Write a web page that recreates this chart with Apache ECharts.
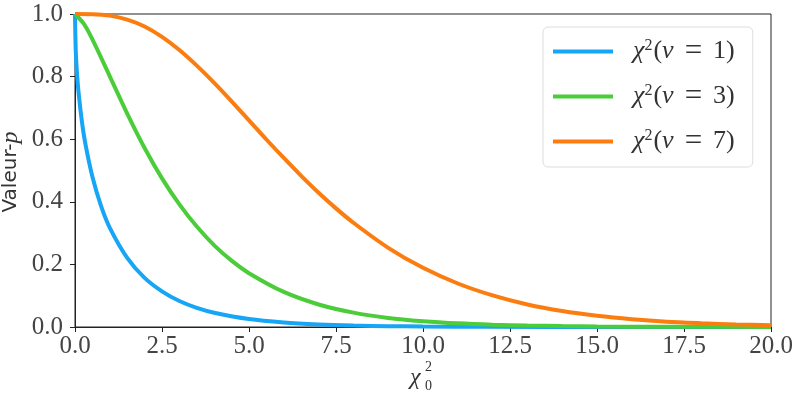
<!DOCTYPE html>
<html>
<head>
<meta charset="utf-8">
<script src="https://cdn.jsdelivr.net/npm/echarts@6/dist/echarts.min.js"></script>
<style>
  html, body { margin: 0; padding: 0; background: #fff; }
  #chart { width: 798px; height: 399px; }
</style>
</head>
<body>
<div id="chart"></div>
<script>
// valeurs
const x1 = [0, 0.02, 0.05, 0.1, 0.2, 0.3, 0.5, 0.75, 1, 1.5, 2, 2.5, 3, 3.5, 4, 5, 6, 7, 8, 9, 10, 12, 15, 20];
const nu1 = [1, 0.888, 0.823, 0.752, 0.655, 0.584, 0.480, 0.386, 0.317, 0.221, 0.157, 0.114, 0.083, 0.061, 0.0455, 0.0253, 0.0143, 0.0082, 0.0047, 0.0027, 0.0016, 0.0005, 0.0001, 0];

const x3 = [0, 0.25, 0.5, 1, 1.5, 2, 2.5, 3, 3.5, 4, 4.5, 5, 6, 7, 8, 9, 10, 11, 12, 13, 14, 15, 17, 20];
const nu3 = [1, 0.969, 0.919, 0.801, 0.682, 0.572, 0.475, 0.392, 0.321, 0.261, 0.212, 0.172, 0.112, 0.072, 0.046, 0.029, 0.0186, 0.0117, 0.0074, 0.0046, 0.0029, 0.0018, 0.0007, 0.0002];

const x7 = [0, 0.5, 1, 1.5, 2, 2.5, 3, 3.5, 4, 4.5, 5, 5.5, 6, 6.5, 7, 7.5, 8, 9, 10, 11, 12, 13, 14, 15, 16, 17, 18, 19, 20];
const nu7 = [1, 0.9994, 0.9948, 0.982, 0.960, 0.927, 0.885, 0.835, 0.780, 0.721, 0.660, 0.599, 0.540, 0.483, 0.429, 0.379, 0.333, 0.253, 0.189, 0.139, 0.101, 0.072, 0.051, 0.036, 0.025, 0.017, 0.012, 0.008, 0.0056];

const xTicks = [0, 2.5, 5, 7.5, 10, 12.5, 15, 17.5, 20];
const yTicks = [0, 0.2, 0.4, 0.6, 0.8, 1.0];

const legendNames = { nu1: '1', nu3: '3', nu7: '7' };

const serif = 'Liberation Serif';

const pairs = (xs, ys) => xs.map((x, i) => [x, ys[i]]);

const chart = echarts.init(document.getElementById('chart'));

const lineSeries = (name, data, color) => ({
  name: name,
  type: 'line',
  data: data,
  smooth: 0.3,
  showSymbol: false,
  clip: true,
  lineStyle: { width: 4, color: color },
  itemStyle: { color: color },
  emphasis: { disabled: true }
});

chart.setOption({
  animation: false,
  grid: {
    left: 75, right: 27, top: 14, bottom: 72,
    outerBoundsMode: 'none',
    containLabel: false,
    show: true, borderColor: '#222', borderWidth: 1
  },
  xAxis: {
    type: 'value',
    min: 0, max: 20, interval: 2.5,
    axisLine: { show: true, lineStyle: { color: '#222' } },
    axisTick: { show: true, length: 5, lineStyle: { color: '#222' } },
    splitLine: { show: false },
    axisLabel: {
      fontFamily: serif, fontSize: 25, color: '#444', margin: 7,
      formatter: v => xTicks.includes(v) ? v.toFixed(1) : ''
    }
  },
  yAxis: {
    type: 'value',
    min: 0, max: 1, interval: 0.2,
    axisLine: { show: true, lineStyle: { color: '#222' } },
    axisTick: { show: true, length: 5, lineStyle: { color: '#222' } },
    splitLine: { show: false },
    axisLabel: {
      fontFamily: serif, fontSize: 25, color: '#444', margin: 12,
      formatter: v => yTicks.some(t => Math.abs(t - v) < 1e-9) ? v.toFixed(1) : ''
    }
  },
  legend: {
    orient: 'vertical',
    left: 543, top: 27,
    padding: [9, 18, 10, 10],
    backgroundColor: '#fff',
    borderColor: '#ddd', borderWidth: 1, borderRadius: 5,
    itemWidth: 60, itemHeight: 4, itemGap: 14,
    icon: 'rect',
    data: ['nu1', 'nu3', 'nu7'],
    formatter: name => '{g|}{c|χ}{s|2}{b|(}{n|ν}{e|=}{b|' + legendNames[name] + ')}',
    textStyle: {
      rich: {
        g: { width: 15 },
        c: { fontFamily: serif, fontStyle: 'italic', fontSize: 26, color: '#333', lineHeight: 28 },
        s: { fontFamily: serif, fontSize: 16, color: '#333', verticalAlign: 'top', lineHeight: 28, padding: [0, 1, 10, 0] },
        n: { fontFamily: serif, fontStyle: 'italic', fontSize: 26, color: '#333', lineHeight: 28 },
        e: { fontFamily: serif, fontSize: 31, color: '#333', lineHeight: 28, padding: [0, 11, 0, 11] },
        b: { fontFamily: serif, fontSize: 26, color: '#333', lineHeight: 28 }
      }
    }
  },
  graphic: [
    { type: 'text', x: 11, y: 172, rotation: Math.PI / 2,
      style: {
        text: '{a|Valeur-}{p|p}',
        align: 'center', verticalAlign: 'middle',
        rich: {
          a: { fontFamily: 'DejaVu Sans', fontSize: 20, fill: '#333' },
          p: { fontFamily: serif, fontStyle: 'italic', fontSize: 24, fill: '#333' }
        }
      } },
    { type: 'text', left: 410, top: 366,
      style: { text: 'χ', font: 'italic 24px "Liberation Serif"', fill: '#333' } },
    { type: 'text', left: 425, top: 360,
      style: { text: '2', font: '14px "Liberation Serif"', fill: '#333' } },
    { type: 'text', left: 425, top: 379,
      style: { text: '0', font: '14px "Liberation Serif"', fill: '#333' } }
  ],
  series: [
    lineSeries('nu1', pairs(x1, nu1), '#17a5f5'),
    lineSeries('nu3', pairs(x3, nu3), '#4bcd3a'),
    lineSeries('nu7', pairs(x7, nu7), '#fb7d10')
  ]
});
</script>
</body>
</html>
